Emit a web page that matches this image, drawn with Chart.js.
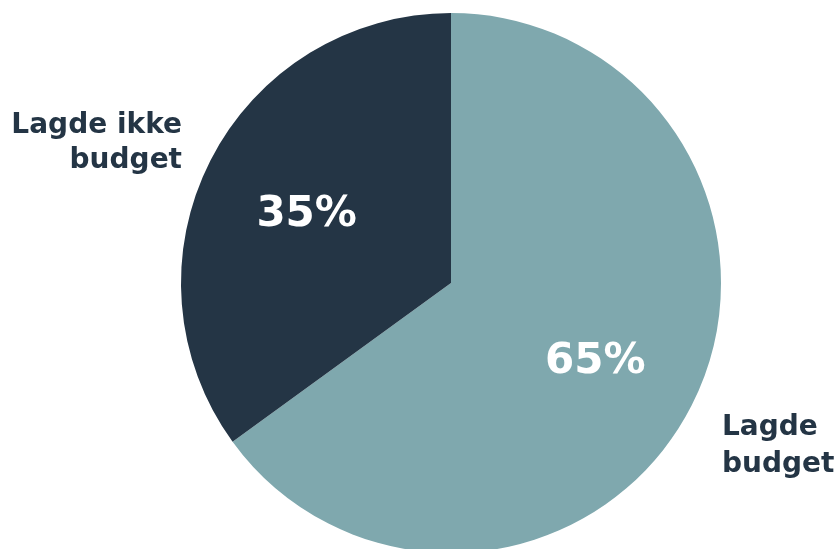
<!DOCTYPE html>
<html>
<head>
<meta charset="utf-8">
<script src="https://cdn.jsdelivr.net/npm/chart.js@4/dist/chart.umd.min.js"></script>
<style>
  html, body { margin: 0; padding: 0; background: #fff; overflow: hidden; }
  #wrap { position: relative; width: 835px; height: 560px; }
</style>
</head>
<body>
<div id="wrap"><canvas id="budgetChart"></canvas></div>
<script>
const labels = ["Lagde budget", "Lagde ikke budget"];
const shares = [65, 35];
const colors = ["#7fa8ae", "#243545"];

const TEXT_DARK = "#243545";
const NAME_FONT = "bold 28px 'DejaVu Sans', sans-serif";
const PCT_FONT = "bold 42px 'DejaVu Sans', sans-serif";

// procenttal inde i hvert udsnit + kategorinavne uden for cirklen
const sliceLabels = {
  id: "sliceLabels",
  afterDatasetsDraw(chart) {
    const ctx = chart.ctx;
    const arcs = chart.getDatasetMeta(0).data;
    ctx.save();
    ctx.textBaseline = "middle";
    ctx.textAlign = "center";
    ctx.font = PCT_FONT;
    ctx.fillStyle = "#ffffff";
    arcs.forEach((arc, i) => {
      const mid = (arc.startAngle + arc.endAngle) / 2;
      const r = arc.outerRadius * 0.6;
      ctx.fillText(shares[i] + "%", arc.x + Math.cos(mid) * r, arc.y + Math.sin(mid) * r + 6);
    });

    const cx = arcs[0].x;
    ctx.font = NAME_FONT;
    ctx.fillStyle = TEXT_DARK;
    ctx.textBaseline = "alphabetic";
    // venstre: "Lagde ikke budget"
    ctx.textAlign = "right";
    ctx.fillText("Lagde ikke", cx - 269, 133);
    ctx.fillText("budget", cx - 269, 168);
    // højre: "Lagde budget"
    ctx.textAlign = "left";
    ctx.fillText("Lagde", cx + 271, 435);
    ctx.fillText("budget", cx + 271, 472);
    ctx.restore();
  }
};

new Chart(document.getElementById("budgetChart"), {
  type: "pie",
  data: {
    labels: labels,
    datasets: [{
      data: shares,
      backgroundColor: colors,
      borderWidth: 0
    }]
  },
  options: {
    responsive: true,
    maintainAspectRatio: false,
    animation: false,
    layout: { padding: { left: 181, right: 114, top: 13, bottom: 7 } },
    plugins: {
      legend: { display: false },
      tooltip: { enabled: false }
    }
  },
  plugins: [sliceLabels]
});
</script>
</body>
</html>
